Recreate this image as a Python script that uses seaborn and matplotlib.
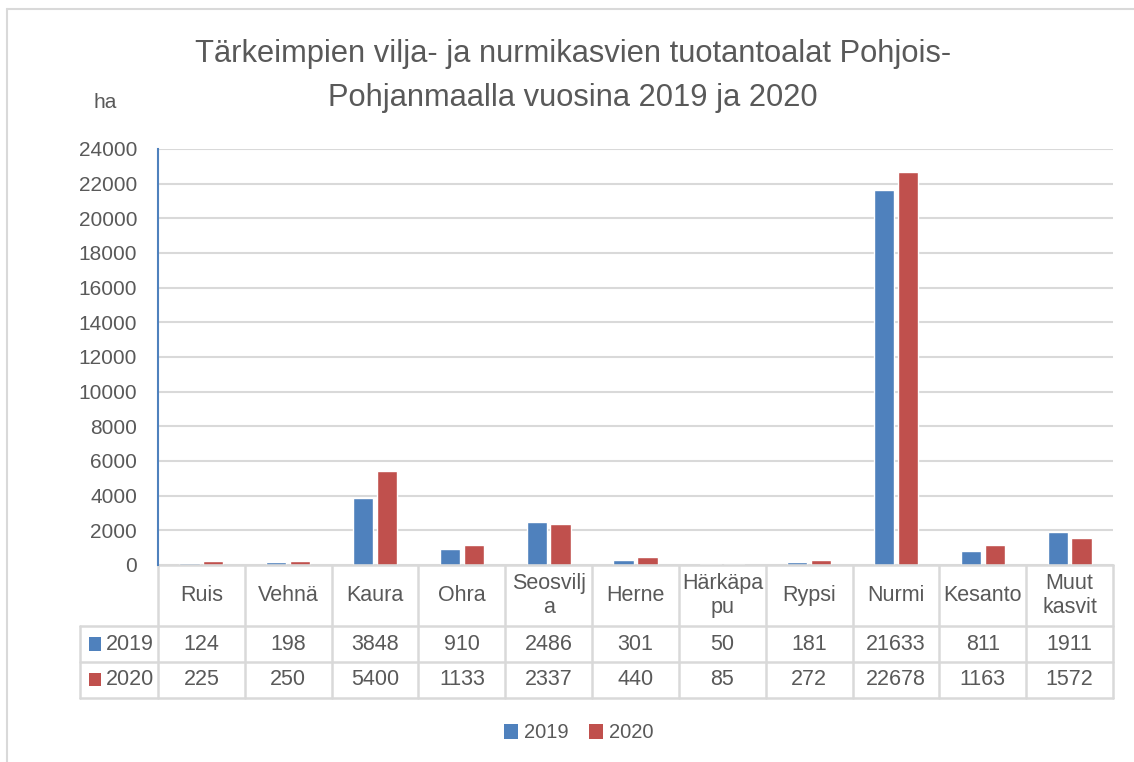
import numpy as np
import pandas as pd
import seaborn as sns
import matplotlib.pyplot as plt
from matplotlib.lines import Line2D
from matplotlib.patches import Rectangle

# Data
categories = ['Ruis', 'Vehnä', 'Kaura', 'Ohra', 'Seosvilj\na', 'Herne', 'Härkäpa\npu',
              'Rypsi', 'Nurmi', 'Kesanto', 'Muut\nkasvit']
v2019 = [124, 198, 3848, 910, 2486, 301, 50, 181, 21633, 811, 1911]
v2020 = [225, 250, 5400, 1133, 2337, 440, 85, 272, 22678, 1163, 1572]
years = ['2019', '2020']
colors = ['#4f81bd', '#c0504d']

df = pd.DataFrame({
    'kasvi': categories * 2,
    'vuosi': [years[0]] * len(v2019) + [years[1]] * len(v2020),
    'ha': v2019 + v2020,
})

sns.set_style('white')
plt.rcParams['font.family'] = ['Liberation Sans Narrow', 'Liberation Sans', 'DejaVu Sans']
txt = '#595959'
grid_c = '#d9d9d9'

fig = plt.figure(figsize=(11.34, 7.62), dpi=100)
ax = fig.add_axes([158 / 1134, 1 - 565 / 762, (1113 - 158) / 1134, (565 - 149) / 762])

sns.barplot(df, x='kasvi', y='ha', hue='vuosi', palette=colors, saturation=1,
            width=0.55, gap=0.15, legend=False, ax=ax)

ax.set_xlim(-0.5, len(categories) - 0.5)
ax.set_ylim(0, 24000)
ax.set_yticks(np.arange(0, 24001, 2000))
ax.yaxis.grid(True, color=grid_c, linewidth=1.5)
ax.set_axisbelow(True)
ax.tick_params(axis='y', labelsize=15, labelcolor=txt, length=0, pad=15)
ax.set_xticks([])
ax.set_xlabel(None)
ax.set_ylabel(None)
for s in ['top', 'right', 'bottom']:
    ax.spines[s].set_visible(False)
ax.spines['left'].set_color('#4f81bd')
ax.spines['left'].set_linewidth(1.5)

# data table below the axes
tr = ax.get_xaxis_transform()
n = len(categories)
h_head, h_row = 0.147, 0.086
y0 = 0
y1 = -h_head
y2 = y1 - h_row
y3 = y2 - h_row
xl = -1.4
lkw = dict(color=grid_c, linewidth=1.8, transform=tr, clip_on=False)
ax.add_line(Line2D([-0.5, n - 0.5], [y0, y0], **lkw))
for yy in (y1, y2, y3):
    ax.add_line(Line2D([xl, n - 0.5], [yy, yy], **lkw))
for i in range(n + 1):
    ax.add_line(Line2D([i - 0.5, i - 0.5], [y0, y3], **lkw))
ax.add_line(Line2D([xl, xl], [y1, y3], **lkw))

for i, cat in enumerate(categories):
    ax.text(i, (y0 + y1) / 2, cat, transform=tr, ha='center', va='center',
            fontsize=15.5, color=txt, linespacing=1.2)
    ax.text(i, (y1 + y2) / 2, str(v2019[i]), transform=tr, ha='center', va='center',
            fontsize=15.5, color=txt)
    ax.text(i, (y2 + y3) / 2, str(v2020[i]), transform=tr, ha='center', va='center',
            fontsize=15.5, color=txt)

for yr, c, (ya, yb) in zip(years, colors, [(y1, y2), (y2, y3)]):
    ym = (ya + yb) / 2
    ax.add_patch(Rectangle((xl + 0.1, ym - 0.016), 0.14, 0.032, transform=tr,
                           facecolor=c, edgecolor='none', clip_on=False))
    ax.text(xl + 0.3, ym, yr, transform=tr, ha='left', va='center', fontsize=15.5, color=txt)

# title and unit
fig.text(573 / 1134, 1 - 76 / 762,
         'Tärkeimpien vilja- ja nurmikasvien tuotantoalat Pohjois-\nPohjanmaalla vuosina 2019 ja 2020',
         ha='center', va='center', fontsize=22.2, color=txt, linespacing=1.6)
fig.text(105 / 1134, 1 - 103 / 762, 'ha', ha='center', va='center', fontsize=15, color=txt)

# legend
handles = [Rectangle((0, 0), 1, 1, facecolor=c, edgecolor='none') for c in colors]
fig.legend(handles, years, loc='center', bbox_to_anchor=(579 / 1134, 1 - 733 / 762), ncol=2,
           frameon=False, fontsize=14.5, labelcolor=txt, handlelength=0.7, handleheight=0.7,
           handletextpad=0.3, columnspacing=1.0)

# chart frame
fig.add_artist(Line2D([7 / 1134, 7 / 1134], [0, 1 - 9 / 762], color=grid_c, linewidth=1.5))
fig.add_artist(Line2D([7 / 1134, 1], [1 - 9 / 762, 1 - 9 / 762], color=grid_c, linewidth=1.5))

plt.savefig('out.png', dpi=100)
